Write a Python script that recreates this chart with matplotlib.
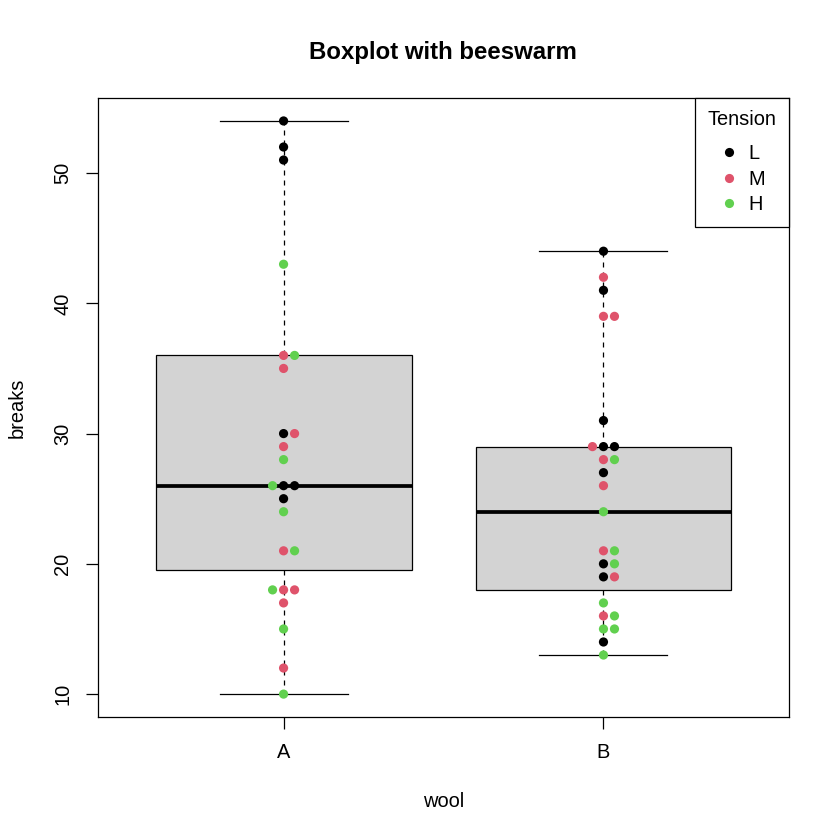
import numpy as np
import matplotlib
matplotlib.use("Agg")
import matplotlib.pyplot as plt
from matplotlib.lines import Line2D

plt.rcParams['font.family'] = ['Liberation Sans', 'DejaVu Sans']

# warpbreaks data
wool_levels = ["A", "B"]
tension_levels = ["L", "M", "H"]
tension_colors = {"L": "#000000", "M": "#DF536B", "H": "#61D04F"}
breaks_A_L = [26, 30, 54, 25, 70, 52, 51, 26, 67]
breaks_A_M = [18, 21, 29, 17, 12, 18, 35, 30, 36]
breaks_A_H = [36, 21, 24, 18, 10, 43, 28, 15, 26]
breaks_B_L = [27, 14, 29, 19, 29, 31, 41, 20, 44]
breaks_B_M = [42, 26, 19, 16, 39, 28, 21, 39, 29]
breaks_B_H = [20, 21, 24, 17, 13, 15, 15, 16, 28]

groups = {
    "A": [("L", breaks_A_L), ("M", breaks_A_M), ("H", breaks_A_H)],
    "B": [("L", breaks_B_L), ("M", breaks_B_M), ("H", breaks_B_H)],
}

fig = plt.figure(figsize=(8.4, 8.4), dpi=100)
ax = fig.add_axes([0.1167, 0.1464, 0.8226, 0.7369])

data = []
for w in wool_levels:
    vals = []
    for t, v in groups[w]:
        vals += v
    data.append(vals)

lw = 0.9
bp = ax.boxplot(data, positions=[1, 2], widths=0.8, whis=1.5, showfliers=False,
                patch_artist=True, capwidths=0.4,
                boxprops=dict(facecolor="#D3D3D3", edgecolor="black", linewidth=lw),
                medianprops=dict(color="black", linewidth=2.7, solid_capstyle="butt"),
                whiskerprops=dict(color="black", linewidth=lw, linestyle=(0, (4, 4))),
                capprops=dict(color="black", linewidth=lw))

ax.set_xlim(0.42, 2.58)
ax.set_ylim(8.24, 55.76)

# beeswarm layout computed in pixel space
fig.canvas.draw()
trans = ax.transData
d = 11.0  # spacing in pixels
for gi, w in enumerate(wool_levels):
    pos = gi + 1
    pts = []
    for t, v in groups[w]:
        for val in v:
            pts.append((val, t))
    order = sorted(range(len(pts)), key=lambda i: pts[i][0])
    placed = []  # (xoff_px, y_px)
    xs, ys, cs = [], [], []
    for i in order:
        val, t = pts[i]
        ypx = trans.transform((pos, val))[1]
        cands = [0.0]
        for (px, py) in placed:
            dy = abs(ypx - py)
            if dy < d:
                dx = np.sqrt(d * d - dy * dy)
                cands += [px + dx, px - dx]
        cands = sorted(set(round(c, 6) for c in cands), key=lambda c: (abs(c), -c))
        chosen = 0.0
        for c in cands:
            ok = True
            for (px, py) in placed:
                if (c - px) ** 2 + (ypx - py) ** 2 < d * d - 1e-6:
                    ok = False
                    break
            if ok:
                chosen = c
                break
        placed.append((chosen, ypx))
        xcen = trans.transform((pos, val))[0]
        xdata = trans.inverted().transform((xcen + chosen, ypx))[0]
        xs.append(xdata); ys.append(val); cs.append(tension_colors[t])
    ax.scatter(xs, ys, s=44, c=cs, marker="o", linewidths=0, zorder=5)

ax.set_xticks([1, 2])
ax.set_xticklabels(wool_levels)
ax.set_yticks([10, 20, 30, 40, 50])
for lab in ax.get_yticklabels():
    lab.set_rotation(90)
    lab.set_va("center")
ax.tick_params(axis="both", labelsize=14.4, length=8.6, width=lw, pad=10)
for sp in ax.spines.values():
    sp.set_linewidth(lw)

ax.set_xlabel("wool", fontsize=14.4, labelpad=22)
ax.set_ylabel("breaks", fontsize=14.4, labelpad=19)
fig.text(0.527, 0.937, "Boxplot with beeswarm", ha="center", va="center",
         fontsize=17.3, fontweight="bold")

handles = [Line2D([], [], marker="o", linestyle="none", color=tension_colors[t],
                  markersize=6.6, markeredgewidth=0) for t in tension_levels]
leg = ax.legend(handles, tension_levels, title="Tension", loc="upper right",
                borderaxespad=0, fancybox=False, framealpha=1, edgecolor="black",
                fontsize=14.4, title_fontsize=14.4, labelspacing=0.33,
                handlelength=1.0, handletextpad=0.45, borderpad=0.62)
leg.get_frame().set_linewidth(lw)
leg._legend_box.sep = 10.5

fig.savefig("out.png", dpi=100)
